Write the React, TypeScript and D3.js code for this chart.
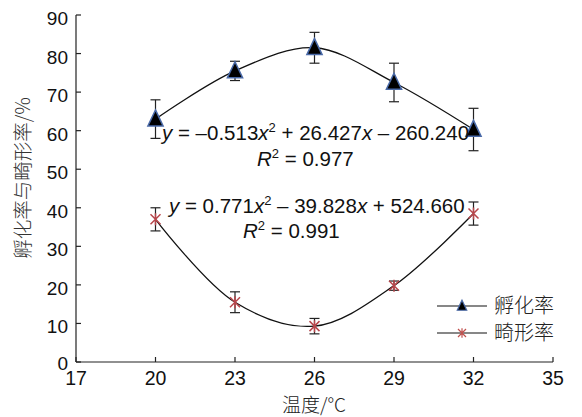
import React from 'react';
import * as d3 from 'd3';

const temps = [20, 23, 26, 29, 32];
const hatchRate = [63.0, 75.5, 81.5, 72.5, 60.3];
const hatchErr = [5.0, 2.5, 4.0, 5.0, 5.5];
const deformRate = [37.0, 15.5, 9.3, 19.8, 38.5];
const deformErr = [3.0, 2.7, 2.0, 1.2, 3.0];
const xTicks = [17, 20, 23, 26, 29, 32, 35];
const yTicks = [0, 10, 20, 30, 40, 50, 60, 70, 80, 90];

const W = 582;
const H = 417;
const m = { left: 76, right: 29, top: 15, bottom: 55 };
const font = '"Liberation Sans", Arial, sans-serif';
const cjk = '"Noto Sans CJK SC", sans-serif';

const xScale = d3.scaleLinear().domain([17, 35]).range([m.left, W - m.right]);
const yScale = d3.scaleLinear().domain([0, 90]).range([H - m.bottom, m.top]);

const lineGen = d3.line<[number, number]>()
  .x(d => xScale(d[0]))
  .y(d => yScale(d[1]))
  .curve(d3.curveCatmullRom.alpha(0.5));

const triPath = (s: number) => `M0,${-s * 1.15}L${s * 0.95},${s * 0.85}L${-s * 0.95},${s * 0.85}Z`;
const starPath = (s: number) =>
  `M${-s},${-s}L${s},${s}M${-s},${s}L${s},${-s}M0,${-s * 1.2}L0,${s * 1.2}`;

const ErrorBars = ({ vals, errs }: { vals: number[]; errs: number[] }) => (
  <g stroke="#222" strokeWidth={1.2}>
    {temps.map((t, i) => {
      const x = xScale(t);
      const y1 = yScale(vals[i] + errs[i]);
      const y2 = yScale(vals[i] - errs[i]);
      return (
        <g key={i}>
          <line x1={x} x2={x} y1={y1} y2={y2} />
          <line x1={x - 5} x2={x + 5} y1={y1} y2={y1} />
          <line x1={x - 5} x2={x + 5} y1={y2} y2={y2} />
        </g>
      );
    })}
  </g>
);

export default function App() {
  const hatchPts = temps.map((t, i) => [t, hatchRate[i]] as [number, number]);
  const deformPts = temps.map((t, i) => [t, deformRate[i]] as [number, number]);
  const x0 = xScale(17);
  const y0 = yScale(0);
  return (
    <svg width={W} height={H} style={{ position: 'absolute', left: 0, top: 0, background: '#fff' }}
      fontFamily={font}>
      {/* axes */}
      <line x1={x0} x2={x0} y1={yScale(90)} y2={y0} stroke="#222" strokeWidth={1.2} />
      <line x1={x0} x2={xScale(35)} y1={y0} y2={y0} stroke="#222" strokeWidth={1.2} />
      {yTicks.map(v => (
        <g key={v}>
          <line x1={x0} x2={x0 + 5} y1={yScale(v)} y2={yScale(v)} stroke="#222" strokeWidth={1.2} />
          <text x={x0 - 8} y={v === 0 ? yScale(v) + 8 : yScale(v) + 10} textAnchor="end" fontSize={19} fill="#111">{v}</text>
        </g>
      ))}
      {xTicks.map(v => (
        <g key={v}>
          <line x1={xScale(v)} x2={xScale(v)} y1={y0} y2={y0 - 5} stroke="#222" strokeWidth={1.2} />
          <text x={xScale(v)} y={y0 + 23} textAnchor="middle" fontSize={19.5} fill="#111">{v}</text>
        </g>
      ))}
      <text x={314} y={412} textAnchor="middle" fontSize={19} fill="#222"
        fontFamily={cjk} fontWeight={300}>温度/°C</text>
      <text transform={`translate(30,178) rotate(-90)`} textAnchor="middle" fontSize={19.5}
        fill="#333" fontFamily={cjk} fontWeight={300}>孵化率与畸形率/%</text>

      {/* curves */}
      <path d={lineGen(hatchPts) || ''} fill="none" stroke="#111" strokeWidth={1.3} />
      <path d={lineGen(deformPts) || ''} fill="none" stroke="#111" strokeWidth={1.3} />

      <ErrorBars vals={hatchRate} errs={hatchErr} />
      <ErrorBars vals={deformRate} errs={deformErr} />

      {hatchPts.map((p, i) => (
        <path key={i} d={triPath(8)} transform={`translate(${xScale(p[0])},${yScale(p[1])})`}
          fill="#000" stroke="#4a6aa8" strokeWidth={1.5} />
      ))}
      {deformPts.map((p, i) => (
        <path key={i} d={starPath(5)} transform={`translate(${xScale(p[0])},${yScale(p[1])})`}
          fill="none" stroke="#b8474c" strokeWidth={1.5} />
      ))}

      {/* equations */}
      <text x={162} y={140} fontSize={20.5} fill="#111">
        <tspan fontStyle="italic">y</tspan> = –0.513<tspan fontStyle="italic">x</tspan>
        <tspan dy={-8} fontSize={13}>2</tspan><tspan dy={8}> + 26.427</tspan>
        <tspan fontStyle="italic">x</tspan> – 260.240
      </text>
      <text x={257} y={166} fontSize={20.5} fill="#111">
        <tspan fontStyle="italic">R</tspan><tspan dy={-8} fontSize={13}>2</tspan><tspan dy={8}> = 0.977</tspan>
      </text>
      <text x={169} y={213} fontSize={20.5} fill="#111">
        <tspan fontStyle="italic">y</tspan> = 0.771<tspan fontStyle="italic">x</tspan>
        <tspan dy={-8} fontSize={13}>2</tspan><tspan dy={8}> – 39.828</tspan>
        <tspan fontStyle="italic">x</tspan> + 524.660
      </text>
      <text x={243} y={238} fontSize={20.5} fill="#111">
        <tspan fontStyle="italic">R</tspan><tspan dy={-8} fontSize={13}>2</tspan><tspan dy={8}> = 0.991</tspan>
      </text>

      {/* legend */}
      <g>
        <line x1={437} x2={487} y1={306} y2={306} stroke="#111" strokeWidth={1.2} />
        <path d={triPath(5)} transform="translate(462,306)" fill="#000" stroke="#4a6aa8" strokeWidth={1.2} />
        <text x={494} y={313} fontSize={20} fill="#222" fontFamily={cjk} fontWeight={300}>孵化率</text>
        <line x1={437} x2={487} y1={333} y2={333} stroke="#111" strokeWidth={1.2} />
        <path d={starPath(4)} transform="translate(462,333)" fill="none" stroke="#c0504d" strokeWidth={1.2} />
        <text x={494} y={340} fontSize={20} fill="#222" fontFamily={cjk} fontWeight={300}>畸形率</text>
      </g>
    </svg>
  );
}
